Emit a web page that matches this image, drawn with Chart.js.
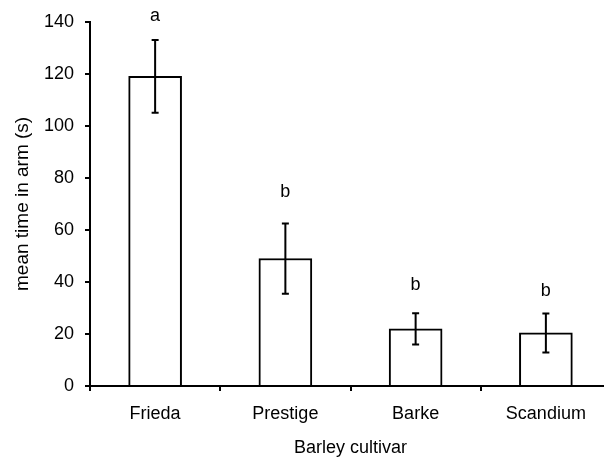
<!DOCTYPE html>
<html>
<head>
<meta charset="utf-8">
<script src="https://cdn.jsdelivr.net/npm/chart.js@4.4.1/dist/chart.umd.min.js"></script>
<style>
  html, body { margin: 0; padding: 0; background: #fff; overflow: hidden; width: 604px; height: 466px; }
  #wrap { width: 611px; height: 466px; }
</style>
</head>
<body>
<div id="wrap"><canvas id="c" width="611" height="466"></canvas></div>
<script>
const categories = ['Frieda', 'Prestige', 'Barke', 'Scandium'];
const meanTime = [119, 49, 22, 20.4];
const errorSize = [14, 13.5, 6, 7.5];
const groupLetters = ['a', 'b', 'b', 'b'];
const letterLevel = [140.3, 72.6, 36.8, 34.5];
const yTicks = [0, 20, 40, 60, 80, 100, 120, 140];

const FONT = 'Liberation Sans, Arial, sans-serif';

const errorBarPlugin = {
  id: 'errorBars',
  afterDatasetsDraw(chart) {
    const ctx = chart.ctx;
    const meta = chart.getDatasetMeta(0);
    const ys = chart.scales.y;
    ctx.save();
    ctx.strokeStyle = '#000';
    ctx.lineWidth = 2;
    meta.data.forEach((bar, i) => {
      const x = bar.x;
      const yt = ys.getPixelForValue(meanTime[i] + errorSize[i]);
      const yb = ys.getPixelForValue(meanTime[i] - errorSize[i]);
      ctx.beginPath();
      ctx.moveTo(x, yt); ctx.lineTo(x, yb);
      ctx.moveTo(x - 3.5, yt); ctx.lineTo(x + 3.5, yt);
      ctx.moveTo(x - 3.5, yb); ctx.lineTo(x + 3.5, yb);
      ctx.stroke();
      ctx.fillStyle = '#000';
      ctx.font = '18px ' + FONT;
      ctx.textAlign = 'center';
      ctx.textBaseline = 'alphabetic';
      ctx.fillText(groupLetters[i], x, ys.getPixelForValue(letterLevel[i]));
    });
    ctx.restore();
  }
};

new Chart(document.getElementById('c'), {
  type: 'bar',
  data: {
    labels: categories,
    datasets: [{
      data: meanTime,
      backgroundColor: '#fff',
      borderColor: '#000',
      borderWidth: 2,
      barThickness: 53
    }]
  },
  options: {
    responsive: false,
    animation: false,
    devicePixelRatio: 1,
    layout: { padding: { top: 21, left: 0, right: 0, bottom: 0 } },
    plugins: { legend: { display: false }, tooltip: { enabled: false } },
    scales: {
      x: {
        offset: true,
        afterFit(s) { s.height = 80; },
        grid: { offset: true, drawOnChartArea: false, drawTicks: true, tickLength: 5, color: '#000', lineWidth: 2 },
        border: { display: true, color: '#000', width: 2 },
        ticks: { color: '#000', font: { family: FONT, size: 18 }, padding: 12.5, maxRotation: 0 },
        title: { display: true, text: 'Barley cultivar', color: '#000', font: { family: FONT, size: 18 }, padding: { top: 0, bottom: 7 } }
      },
      y: {
        min: 0, max: 140,
        afterFit(s) { s.width = 90; },
        afterBuildTicks(s) { s.ticks = yTicks.map(v => ({ value: v })); },
        grid: { drawOnChartArea: false, drawTicks: true, tickLength: 5, color: '#000', lineWidth: 2 },
        border: { display: true, color: '#000', width: 2 },
        ticks: { color: '#000', font: { family: FONT, size: 18 }, padding: 11 },
        title: { display: true, text: 'mean time in arm (s)', color: '#000', font: { family: FONT, size: 19 }, padding: { top: 11.5, bottom: 0 } }
      }
    }
  },
  plugins: [errorBarPlugin]
});
</script>
</body>
</html>
